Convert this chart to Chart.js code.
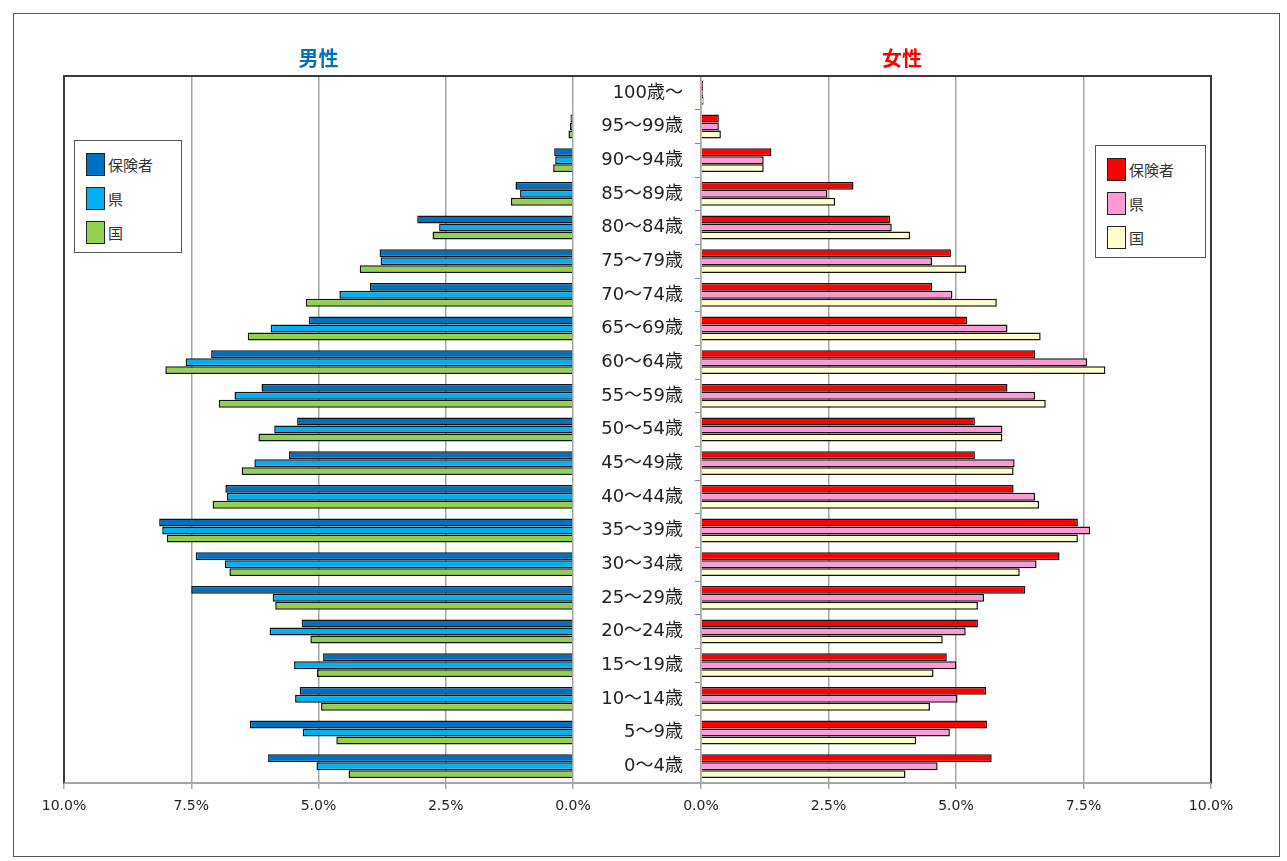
<!DOCTYPE html>
<html>
<head>
<meta charset="utf-8">
<script src="https://cdn.jsdelivr.net/npm/chart.js@4.4.1/dist/chart.umd.min.js"></script>
<style>
html,body{margin:0;padding:0;background:#fff;}
#wrap{position:relative;width:1287px;height:861px;overflow:hidden;background:#fff;}
canvas{position:absolute;top:0;}
#cL{left:0;}
#cR{left:575px;}
.frame{position:absolute;left:13px;top:13px;width:1267px;height:844px;border:1px solid #555;box-sizing:border-box;pointer-events:none;}
.plotbox{position:absolute;left:63px;top:75px;width:1149px;height:709px;border:2px solid #3a3a3a;border-bottom:2px solid #a6a6a6;box-sizing:border-box;pointer-events:none;}
.legend{position:absolute;border:1.5px solid #555;background:#fff;box-sizing:border-box;font-family:"Noto Sans CJK JP","Noto Sans",sans-serif;font-size:15px;color:#333;}
.item{position:absolute;left:11px;height:24px;display:flex;align-items:center;}
.sw{width:19px;height:23px;border:1.5px solid #222;box-sizing:border-box;margin-right:3px;}
</style>
</head>
<body>
<div id="wrap">
  <div class="frame"></div>
  <canvas id="cL" width="600" height="861"></canvas>
  <canvas id="cR" width="712" height="861"></canvas>
  <div class="plotbox"></div>
  <div class="legend" id="legL" style="left:74px;top:140px;width:108px;height:113px;"></div>
  <div class="legend" id="legR" style="left:1095px;top:145px;width:111px;height:113px;"></div>
</div>
<script>
// ---- data ----
const ageLabels = ['100歳～','95～99歳','90～94歳','85～89歳','80～84歳','75～79歳','70～74歳','65～69歳','60～64歳','55～59歳','50～54歳','45～49歳','40～44歳','35～39歳','30～34歳','25～29歳','20～24歳','15～19歳','10～14歳','5～9歳','0～4歳'];
const seriesNames = ['保険者','県','国'];
const xTicks = [0, 2.5, 5, 7.5, 10];

const maleInsurer = [0.01,0.05,0.37,1.13,3.06,3.80,3.99,5.19,7.11,6.12,5.42,5.58,6.83,8.13,7.41,7.50,5.33,4.91,5.37,6.35,5.99];
const malePref    = [0.01,0.06,0.35,1.04,2.63,3.78,4.59,5.94,7.61,6.65,5.87,6.26,6.80,8.07,6.84,5.90,5.96,5.48,5.46,5.31,5.04];
const maleNation  = [0.02,0.09,0.39,1.22,2.76,4.19,5.25,6.39,8.01,6.96,6.18,6.51,7.08,7.98,6.75,5.85,5.16,5.03,4.95,4.65,4.41];

const femaleInsurer = [0.04,0.35,1.38,2.99,3.71,4.90,4.53,5.22,6.55,6.01,5.37,5.37,6.13,7.39,7.03,6.36,5.43,4.82,5.59,5.61,5.70];
const femalePref    = [0.04,0.35,1.23,2.48,3.74,4.53,4.93,6.01,7.57,6.55,5.91,6.15,6.55,7.63,6.58,5.55,5.19,5.01,5.03,4.88,4.64];
const femaleNation  = [0.05,0.39,1.23,2.63,4.10,5.20,5.80,6.66,7.93,6.76,5.91,6.13,6.63,7.39,6.25,5.43,4.74,4.56,4.49,4.22,4.01];

const maleColors = ['#0070C0','#00B0F0','#92D050'];
const femaleColors = ['#FF0000','#FF99D6','#FFFFCC'];

// ---- build ----
const tickFont = {family:'"DejaVu Sans","Noto Sans CJK JP",sans-serif', size:14};
function ds(values, i, colors){
  return {label:seriesNames[i], data:values, backgroundColor:colors[i], borderColor:'#141414', borderWidth:1.5,
          categoryPercentage:0.71, barPercentage:1.0};
}
function xScale(reverse){
  return {
    reverse:reverse, min:0, max:10,
    afterBuildTicks:s=>{ s.ticks = xTicks.map(v=>({value:v})); },
    ticks:{callback:v=>Number(v).toFixed(1)+'%', font:tickFont, color:'#222', padding:9, maxRotation:0, autoSkip:false},
    grid:{color:'#a6a6a6', lineWidth:1.5, tickLength:6, drawTicks:true},
    border:{display:true, color:'#a6a6a6', width:1.5},
    afterFit:s=>{ s.height = 50; }
  };
}
function titleOpt(text, color){
  return {display:true, text:text, color:color, font:{family:'"Noto Sans CJK JP",sans-serif', size:20, weight:'bold'}, padding:{top:46, bottom:6}};
}

new Chart(document.getElementById('cL'), {
  type:'bar',
  data:{labels:ageLabels, datasets:[ds(maleInsurer,0,maleColors), ds(malePref,1,maleColors), ds(maleNation,2,maleColors)]},
  options:{
    indexAxis:'y', responsive:false, animation:false, devicePixelRatio:1,
    layout:{padding:{left:64, right:27, top:0, bottom:28}},
    plugins:{legend:{display:false}, tooltip:{enabled:false}, title:titleOpt('男性','#0070C0')},
    scales:{ x:xScale(true), y:{display:false} }
  }
});

new Chart(document.getElementById('cR'), {
  type:'bar',
  data:{labels:ageLabels, datasets:[ds(femaleInsurer,0,femaleColors), ds(femalePref,1,femaleColors), ds(femaleNation,2,femaleColors)]},
  options:{
    indexAxis:'y', responsive:false, animation:false, devicePixelRatio:1,
    layout:{padding:{left:18, right:76, top:0, bottom:28}},
    plugins:{legend:{display:false}, tooltip:{enabled:false}, title:titleOpt('女性','#FF0000')},
    scales:{
      x:xScale(false),
      y:{
        position:'left',
        ticks:{font:{family:'"DejaVu Sans","Noto Sans CJK JP",sans-serif', size:18}, color:'#222', padding:12, autoSkip:false},
        grid:{display:true, drawOnChartArea:false, offset:true, tickLength:6, color:'#8a8a8a'},
        border:{display:true, color:'#a6a6a6', width:1.5},
        afterFit:s=>{ s.width = 108; }
      }
    }
  }
});

// ---- legends (HTML, from the same arrays) ----
function buildLegend(id, colors){
  const el = document.getElementById(id);
  seriesNames.forEach((n,i)=>{
    const it = document.createElement('div');
    it.className='item';
    it.style.top = (11 + i*34) + 'px';
    const sw = document.createElement('div');
    sw.className='sw'; sw.style.background = colors[i];
    const tx = document.createElement('span'); tx.textContent = n;
    it.appendChild(sw); it.appendChild(tx); el.appendChild(it);
  });
}
buildLegend('legL', maleColors);
buildLegend('legR', femaleColors);
</script>
</body>
</html>
